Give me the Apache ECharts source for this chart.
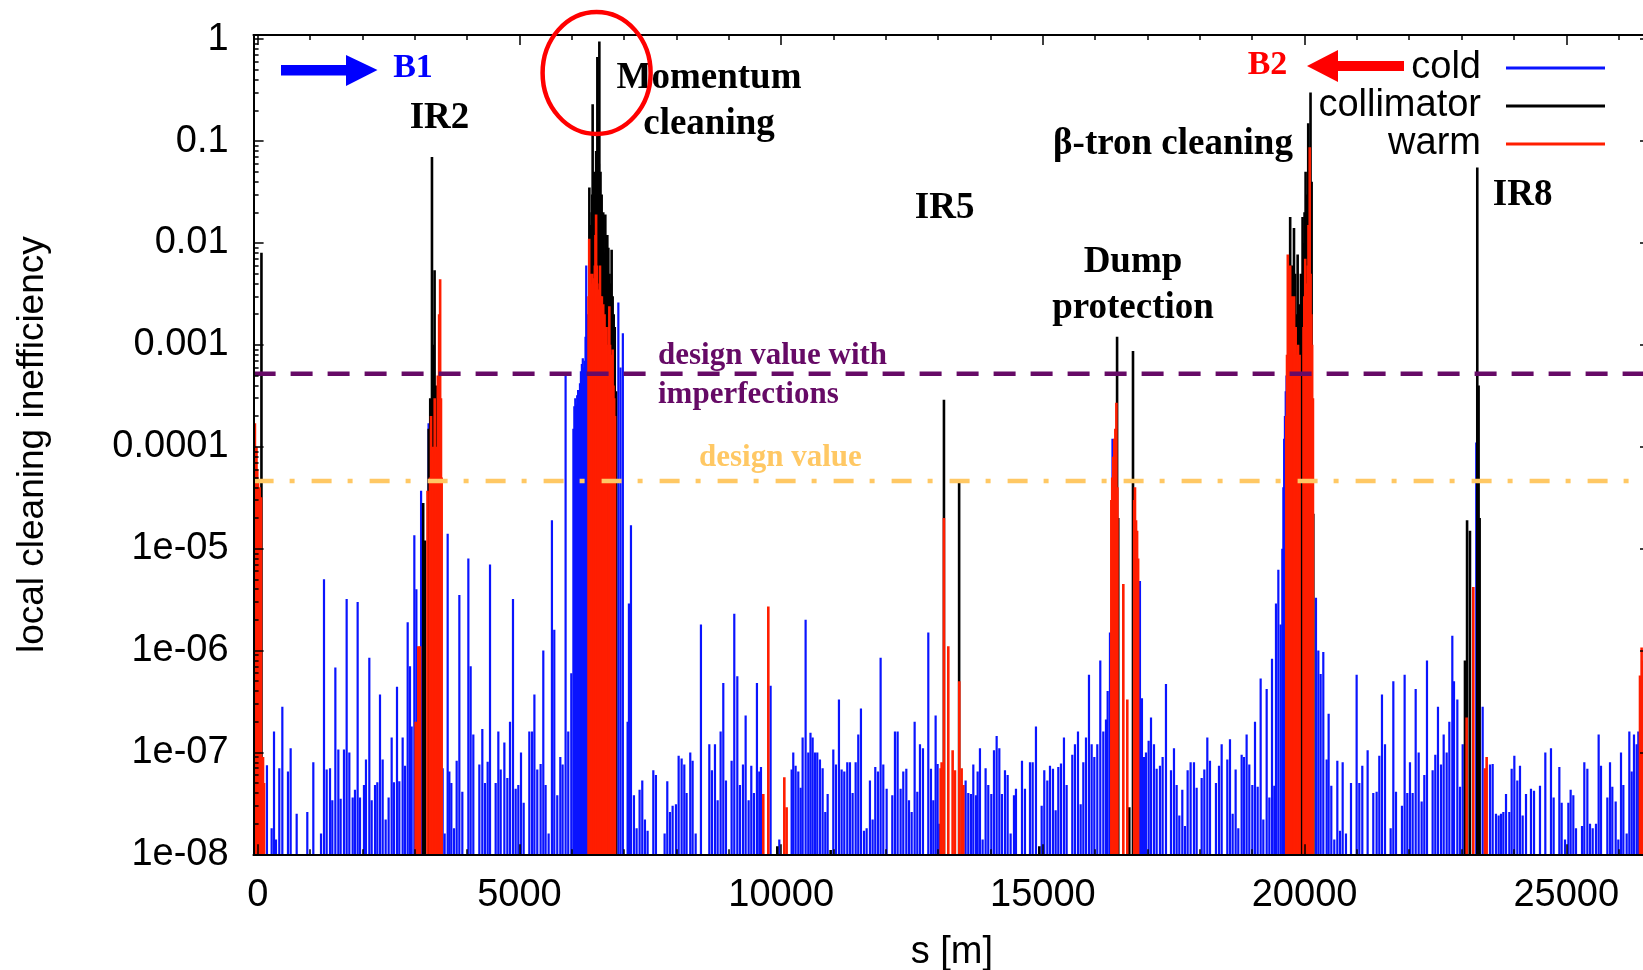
<!DOCTYPE html>
<html>
<head>
<meta charset="utf-8">
<script src="https://cdn.jsdelivr.net/npm/echarts@6.0.0/dist/echarts.min.js"></script>
<style>
  html, body { margin: 0; padding: 0; background: #ffffff; }
  #chart { width: 1643px; height: 970px; }
</style>
</head>
<body>
<div id="chart"></div>
<script>
// Local cleaning inefficiency around the ring, [s (m), inefficiency]
// Cold elements (superconducting magnets), grouped by ring section
const coldIR1toIR2 = [
  [175,7.5e-8],[265,1.8e-8],[310,1.6e-7],[348,1.4e-8],[411,7e-8],[469,2.8e-7],[577,6.5e-8],[628,1.1e-7],
  [743,2.5e-8],[946,2.6e-8],[1061,8e-8],[1208,1.6e-8],[1265,5e-6],[1316,6.8e-8],[1380,7e-8],[1424,3.4e-8],
  [1482,6.8e-7],[1539,1.07e-7],[1583,3.5e-8],[1647,1.07e-7],[1698,3.2e-6],[1749,1e-7],[1813,3.6e-8],[1857,4.3e-8],
  [1908,3e-6],[1953,3.6e-8],[2029,4.8e-8],[2067,8.5e-8],[2131,8.5e-7],[2176,3.4e-8],[2240,4.8e-8],[2284,5.1e-8],
  [2335,3.7e-7],[2386,8.5e-8],[2443,2.2e-8],[2500,3.6e-8],[2558,1.4e-7],[2602,5.1e-8],[2660,4.4e-7],[2704,5.2e-8],
  [2768,1.4e-7],[2813,7.4e-8],[2864,1.9e-6],[2908,7e-7],[2940,1.8e-7],[2991,1.35e-5],[3030,4e-6],[3120,3.7e-5],
  [3150,2e-5],[3263,1.7e-4],[3433,3e-4]
];
const coldIR2toIR3 = [
  [3532,7e-8],[3570,1.6e-8],[3628,1.4e-5],[3660,6.5e-8],[3698,5e-8],[3749,1.8e-8],[3800,8.3e-8],[3851,3.5e-6],
  [3908,4.1e-8],[4023,8e-6],[4067,7e-7],[4118,1.5e-7],[4233,7.6e-8],[4290,1.7e-7],[4341,5e-8],[4392,8.1e-8],
  [4437,7e-6],[4545,5e-8],[4596,1.6e-7],[4641,6.8e-8],[4711,1.25e-7],[4768,5.6e-8],[4819,2e-7],[4876,3.2e-6],
  [4927,4.4e-8],[4978,4.8e-8],[5029,1e-7],[5080,3.2e-8],[5188,1.6e-7],[5240,1.6e-7],[5285,3.7e-7],[5340,6.8e-8],
  [5404,7.7e-8],[5455,1e-6],[5499,4.8e-8],[5557,1.6e-8],[5620,1.9e-5],[5665,1.6e-6],[5722,3.8e-8],[5780,9e-8],
  [5824,7.6e-8],[5881,5e-4],[5932,1.6e-7],[5990,6e-7]
];
const coldIR3 = [
  [6030,1.5e-4],[6048,2.5e-4],[6066,3e-4],[6084,2.6e-4],[6102,3.2e-4],[6120,3.6e-4],[6138,3.4e-4],[6156,4.2e-4],
  [6174,5.5e-4],[6192,6.5e-4],[6210,7.4e-4],[6228,6e-4],[6246,7e-4],[6262,1.2e-3],[6275,6e-3],[6292,2e-3],
  [6310,1.5e-3],[6889,2.6e-3],[6930,6e-4],[6975,1.3e-3]
];
const coldIR3toIR5 = [
  [7066,2e-7],[7091,2.9e-6],[7130,1.7e-5],[7187,3.8e-8],[7238,1.8e-8],[7295,4.3e-8],[7346,5.3e-8],[7397,2.2e-8],
  [7448,1.7e-8],[7557,6.7e-8],[7607,6e-8],[7773,1.6e-8],[7824,5.2e-8],[7875,2.6e-8],[7926,3e-8],[7990,3.1e-8],
  [8041,9.3e-8],[8098,8.7e-8],[8149,7.6e-8],[8193,4e-8],[8263,1e-7],[8308,8.3e-8],[8366,1.6e-8],[8467,1.8e-6],
  [8627,1.2e-7],[8677,6.7e-8],[8735,1.2e-7],[8786,3.4e-8],[8843,1.6e-7],[8894,4.8e-7],[8945,5.3e-8],[9053,8.3e-8],
  [9104,2.3e-6],[9162,5.6e-7],[9212,4.8e-8],[9270,7.6e-8],[9321,2.3e-7],[9378,3.4e-8],[9429,7.4e-8],[9480,4e-8],
  [9537,4.8e-7],[9582,6.5e-8],[9614,7.2e-8],[9798,4.5e-7],[9964,1.4e-8],[10200,6.8e-8],[10231,1e-7],[10276,7.4e-8],
  [10327,6.5e-8],[10372,4.5e-8],[10410,1.4e-7],[10467,2e-6],[10518,1e-7],[10560,1.56e-7],[10601,1.4e-7],[10646,1e-7],
  [10690,1e-7],[10741,8.5e-8],[10792,7e-8],[10843,2.6e-8],[10888,3.9e-8],[10996,1.07e-7],[11047,7.6e-8],[11104,3.3e-7],
  [11155,6.8e-8],[11206,6.5e-8],[11263,8e-8],[11314,8e-8],[11365,4e-8],[11423,8e-8],[11473,1.5e-7],[11524,2.7e-7],
  [11582,1.7e-8],[11633,1.8e-8],[11696,5.3e-8],[11747,2.2e-8],[11798,7.2e-8],[11849,6.5e-8],[11900,8.5e-7],[11951,7.6e-8],
  [12015,4.4e-8],[12123,3.8e-8],[12174,1.6e-7],[12225,1.6e-7],[12282,4.4e-8],[12333,6.5e-8],[12391,6.9e-8],[12442,3.4e-8],
  [12493,2.6e-8],[12550,2e-7],[12601,4.1e-8],[12652,1.2e-7],[12709,1.1e-7],[12811,1.5e-6],[12862,6.9e-8],[12907,3.4e-8],
  [12951,2.3e-7],[12989,7.7e-8],[13021,2e-8]
];
const coldIR5toIR7 = [
  [13480,4.8e-8],[13524,5.3e-8],[13575,4e-8],[13626,3.9e-8],[13671,7.6e-8],[13722,3.8e-8],[13754,6.5e-8],[13798,1.1e-7],
  [13849,1.4e-8],[13906,7e-8],[13957,4.8e-8],[14015,3.9e-8],[14066,1.05e-7],[14117,1.45e-7],[14168,1.1e-7],[14218,3.9e-8],
  [14276,6.7e-8],[14327,6e-8],[14384,1.6e-8],[14448,3.8e-8],[14486,4.4e-8],[14601,8.3e-8],[14658,4.4e-8],[14754,8e-8],
  [14805,8e-8],[14868,1.8e-7],[14977,3e-8],[15027,6.7e-8],[15085,5.3e-8],[15136,7.4e-8],[15193,6.9e-8],[15244,2.7e-8],
  [15295,7.2e-8],[15346,7.8e-8],[15403,1.4e-7],[15454,4.8e-8],[15562,9.5e-8],[15613,1.2e-7],[15671,1.6e-7],[15722,3.1e-8],
  [15773,8e-8],[15824,1.4e-7],[15881,5.8e-7],[15932,1.2e-7],[15983,9e-8],[16040,1.2e-7],[16097,8e-7],[16155,1.6e-7],
  [16206,2.1e-7],[16238,4e-7],[16282,1.5e-6],[16330,1.2e-4],[16855,4.8e-6],[16893,3.4e-7],[16932,9e-8],[16970,1e-7],
  [17021,1.3e-7],[17066,2.2e-7],[17123,1.2e-7],[17174,6.9e-8],[17237,7.4e-8],[17288,9e-8],[17352,4.7e-7],[17448,6.7e-8],
  [17505,1.1e-7],[17556,4.8e-8],[17607,2.4e-8],[17664,4.3e-8],[17715,1.9e-8],[17766,6.7e-8],[17823,8e-8],[17887,8e-8],
  [17938,4.5e-8],[18034,5.6e-8],[18085,6.8e-8],[18142,1.4e-7],[18193,8.3e-8],[18307,5e-8],[18365,7.4e-8],[18416,1.2e-7],
  [18524,8.5e-8],[18575,1.35e-7],[18626,2.5e-8],[18683,6.8e-8],[18734,1.8e-8],[18798,9.5e-8],[18843,9e-8],[18893,1.5e-7],
  [18944,7.6e-8],[19002,4.8e-8],[19053,2e-7],[19104,4.6e-8],[19161,5.3e-7],[19212,2.2e-8],[19276,4.2e-7],[19327,3.6e-8],
  [19378,8.3e-7],[19422,4.7e-8],[19454,2.9e-6],[19499,6.2e-6],[19543,1.8e-6],[19575,1e-5],[19595,4e-5],[19610,1.2e-4],
  [19625,2e-4],[19640,3.5e-4],[19655,5e-4]
];
const coldIR7toIR1 = [
  [20218,3.3e-6],[20263,1e-6],[20307,5.9e-7],[20358,9.7e-7],[20422,8.5e-8],[20460,2.4e-7],[20511,4.7e-8],[20568,1.4e-8],
  [20626,8.3e-8],[20677,1.7e-8],[20728,8e-8],[20791,1.6e-8],[20887,5e-8],[20995,5.8e-7],[21046,5e-8],[21103,7.4e-8],
  [21205,1.05e-7],[21313,4e-8],[21377,4.1e-8],[21428,9.3e-8],[21479,3.7e-7],[21537,1.2e-7],[21645,1.8e-8],[21696,5e-7],
  [21747,4.1e-8],[21861,3e-8],[21912,5.8e-7],[21963,4e-8],[22014,8e-8],[22065,4e-8],[22123,4.2e-7],[22180,1e-7],
  [22237,3.3e-8],[22288,6e-8],[22339,8e-7],[22447,6.7e-8],[22498,9.5e-8],[22549,2.8e-7],[22607,7.6e-8],[22658,1.5e-7],
  [22715,1e-7],[22766,2e-7],[22823,1.4e-6],[22855,5e-7],[22919,3.3e-7],[22970,4.6e-8],[23021,1.2e-7],[23280,1.1e-4],
  [23403,2.8e-7],[23543,7.6e-8],[23594,7.7e-8],[23657,2.5e-8],[23708,2.4e-8],[23753,2.5e-8],[23798,2.6e-8],[23849,3.9e-8],
  [23912,2.6e-8],[23957,6.9e-8],[24008,9.3e-8],[24065,5.3e-8],[24116,7.4e-8],[24167,2.4e-8],[24231,3.9e-8],[24326,4.4e-8],
  [24384,4.2e-8],[24498,4.7e-8],[24600,1e-7],[24708,1.1e-7],[24759,3.6e-8],[24868,7.2e-8],[24912,3.2e-8],[24976,1.4e-8],
  [25040,3.2e-8],[25084,4.3e-8],[25135,3.8e-8],[25186,1.8e-8],[25301,1.9e-8],[25345,8e-8],[25403,6.9e-8],[25454,2e-8],
  [25505,1.8e-8],[25568,2e-8],[25619,1.5e-7],[25664,7.4e-8],[25785,3.6e-8],[25836,8e-8],[25880,4.6e-8],[25944,3.3e-8],
  [25995,1.4e-8],[26046,1e-7],[26091,4.8e-8],[26154,1.6e-8],[26205,1.6e-7],[26250,6.5e-8],[26294,1.5e-7],[26345,1.2e-7],
  [26377,1.6e-7]
];

// Collimators
const collimatorIR1 = [[70,8e-3]];
const collimatorIR2 = [[3160,2.8e-5],[3195,1.2e-5],[3265,1.5e-4],[3295,3e-4],[3328,0.07],[3350,1e-3],[3378,5.4e-3],[3400,4e-4]];
const collimatorIR3 = [
  [6335,0.035],[6350,8e-3],[6360,0.012],[6372,0.015],[6380,0.02],[6390,0.03],[6398,0.23],[6410,0.012],[6420,0.05],
  [6432,0.025],[6443,0.018],[6455,0.01],[6465,0.08],[6478,0.04],[6488,0.67],[6498,0.02],[6507,0.15],[6516,0.06],
  [6526,0.95],[6536,0.02],[6548,0.05],[6558,0.015],[6570,0.03],[6585,0.012],[6600,0.02],[6620,8e-3],[6640,0.019],
  [6660,6e-3],[6678,0.012],[6698,9e-3],[6720,5e-3],[6740,4e-3],[6761,8.6e-3],[6780,3e-3],[6800,2e-3],[6820,1.5e-3],
  [6844,3.5e-4]
];
const collimatorArcs = [[9926,1.2e-8],[10945,1.1e-8],[14932,1.2e-8]];
const collimatorIR5 = [[13110,2.9e-4],[13400,4.8e-5]];
const collimatorIR6 = [[16418,1.2e-3],[16440,2e-5],[16651,2.9e-8],[16722,8.7e-4]];
const collimatorIR7 = [
  [19672,2e-4],[19690,4e-3],[19725,0.018],[19745,2e-3],[19765,6e-3],[19780,3e-3],[19798,0.014],[19820,5e-3],
  [19845,2e-3],[19868,7.7e-3],[19890,2.5e-3],[19912,1.5e-3],[19930,5e-3],[19945,3e-3],[19962,0.018],[19985,0.01],
  [20000,0.02],[20020,0.05],[20045,0.03],[20070,0.15],[20090,0.07],[20114,0.3],[20135,0.04],[20167,2.2e-5]
];
const collimatorIR8 = [[23065,8e-7],[23105,1.9e-5],[23160,1.5e-5],[23300,0.055],[23325,4e-4],[23345,2e-5]];

// Warm elements
const warmIR1 = [
  [-70,5e-5],[-55,1.7e-4],[-40,8e-5],[-25,1e-4],[-10,6e-5],[5,4.5e-5],[20,3.5e-5],[35,4e-5],[50,3e-5],[62,3.2e-5],
  [80,9e-8],[100,9e-8],[120,5e-8]
];
const warmIR2 = [
  [3017,2e-7],[3067,1.1e-6],[3100,1.1e-6],[3243,3.7e-5],[3290,5e-5],[3310,2e-4],[3350,1e-4],[3380,3e-4],[3410,1e-4],
  [3440,5e-4],[3465,2e-3],[3484,4.4e-3],[3500,3e-4],[3513,5e-5]
];
const warmIR3 = [
  [6320,3e-3],[6332,1.1e-2],[6344,5e-3],[6356,3e-3],[6368,4e-3],[6380,3.5e-3],[6392,5e-3],[6404,4e-3],[6416,3e-3],
  [6428,4.5e-3],[6440,6e-3],[6452,1.2e-2],[6464,1.9e-2],[6476,6e-3],[6488,4e-3],[6500,3e-3],[6515,3.5e-3],[6538,6e-3],
  [6550,3e-3],[6562,2.5e-3],[6574,3e-3],[6586,2e-3],[6600,2.5e-3],[6612,1.5e-3],[6625,2e-3],[6638,1.2e-3],[6650,1.5e-3],
  [6665,1e-3],[6700,1.5e-3],[6717,2.4e-3],[6730,1e-3],[6745,8e-4],[6760,6e-4],[6780,9e-4],[6795,4e-4],[6810,3e-4],
  [6825,2e-4]
];
const warmArcs = [[9658,3.9e-8],[9754,2.7e-6],[10060,5.7e-8],[10104,2.9e-8]];
const warmIR5 = [
  [13047,7e-8],[13066,8e-8],[13110,2e-5],[13193,1.1e-6],[13276,1.05e-7],[13320,6.7e-8],[13403,5e-7],[13448,7e-8],[13480,4.8e-8]
];
const warmIR6 = [
  [16308,3e-5],[16325,5e-5],[16345,8e-5],[16365,1.2e-4],[16385,1.5e-4],[16405,2.7e-4],[16425,4e-5],[16537,4.5e-6],
  [16613,3.3e-7],[16745,3e-5],[16760,4e-5],[16780,1.9e-5],[16800,1.5e-5],[16820,8e-6]
];
const warmIR7 = [
  [19650,2e-4],[19665,8e-4],[19680,7.7e-3],[19695,3e-3],[19710,4e-3],[19725,6e-3],[19740,1.5e-3],[19755,3e-3],
  [19770,1.5e-3],[19785,2e-3],[19800,3e-3],[19815,8e-4],[19830,1.5e-3],[19845,8e-4],[19860,6e-4],[19875,1e-3],
  [19890,5e-4],[19905,8e-4],[19980,1.5e-3],[19995,3e-3],[20013,7e-3],[20030,2.5e-3],[20045,4e-3],[20060,6e-3],
  [20075,1.5e-2],[20099,0.087],[20115,5e-3],[20130,2e-3],[20145,1e-3],[20160,3e-4]
];
const warmIR8 = [[23097,2.2e-7],[23224,4.2e-6],[23447,7e-8],[23479,9e-8]];
const warmIR1Left = [[26409,5.7e-7],[26440,1.07e-6],[26470,8e-7]];

// Reference levels
const designWithImperfections = 5.2e-4;
const designValue = 4.6e-5;

// Axis ticks and labels
const xTickValues = [0, 5000, 10000, 15000, 20000, 25000];
const xTickLabels = ['0', '5000', '10000', '15000', '20000', '25000'];
const yTickValues = [1e-8, 1e-7, 1e-6, 1e-5, 1e-4, 1e-3, 1e-2, 1e-1, 1];
const yTickLabels = ['1e-08', '1e-07', '1e-06', '1e-05', '0.0001', '0.001', '0.01', '0.1', '1'];

const S_MIN = -80, S_MAX = 26600, Y_MIN = 1e-8, Y_MAX = 1.1;

const cold = [].concat(coldIR1toIR2, coldIR2toIR3, coldIR3, coldIR3toIR5, coldIR5toIR7, coldIR7toIR1);
const collimator = [].concat(collimatorIR1, collimatorIR2, collimatorIR3, collimatorArcs, collimatorIR5,
                             collimatorIR6, collimatorIR7, collimatorIR8);
const warm = [].concat(warmIR1, warmIR2, warmIR3, warmArcs, warmIR5, warmIR6, warmIR7, warmIR8, warmIR1Left);

const xMinorTicks = [];
for (let s = 1000; s < S_MAX; s += 1000) if (s % 5000 !== 0) xMinorTicks.push(s);
const yMinorTicks = [];
for (let e = -8; e < 0; e++) for (let k = 2; k <= 9; k++) yMinorTicks.push(k * Math.pow(10, e));

const BLUE = '#0a14ff', BLACK = '#000000', RED = '#ff1e00';
const PURPLE = '#660a66', ORANGE = '#ffc864';
const SANS = 'Liberation Sans';
const SERIF_BOLD = 'bold 37px "Liberation Serif"';

// impulses: vertical line from the axis floor up to each value
function impulses(name, data, color, width, z) {
  return {
    name, type: 'custom', data, z, clip: true, silent: true,
    itemStyle: { color },
    encode: { x: 0, y: 1 },
    renderItem: (params, api) => {
      const top = api.coord([api.value(0), api.value(1)]);
      const base = api.coord([api.value(0), Y_MIN]);
      return {
        type: 'line',
        shape: { x1: top[0], y1: base[1], x2: top[0], y2: top[1] },
        style: { stroke: color, lineWidth: width }
      };
    }
  };
}

// horizontal reference level across the whole ring
function level(name, value, color, dash) {
  return {
    name, type: 'custom', data: [[S_MIN, value]], z: 6, clip: true, silent: true,
    encode: { x: 0, y: 1 },
    renderItem: (params, api) => {
      const a = api.coord([S_MIN, api.value(1)]);
      const b = api.coord([S_MAX, api.value(1)]);
      return {
        type: 'line',
        shape: { x1: a[0], y1: a[1], x2: b[0], y2: b[1] },
        style: { stroke: color, lineWidth: 4.5, lineDash: dash }
      };
    }
  };
}

const tickLine = { color: '#000', width: 1.5 };
function xAxisDef(position, ticks, len, labels) {
  return {
    type: 'value', min: S_MIN, max: S_MAX, position, z: 10,
    axisLine: { show: true, onZero: false, lineStyle: { color: '#000', width: 2 } },
    splitLine: { show: false },
    axisTick: { show: true, inside: true, length: len, lineStyle: tickLine, customValues: ticks },
    axisLabel: labels ? {
      customValues: xTickValues, margin: 22, fontSize: 38, fontFamily: SANS, color: '#000',
      formatter: v => { const i = xTickValues.indexOf(Math.round(v)); return i >= 0 ? xTickLabels[i] : ''; }
    } : { show: false }
  };
}
function yAxisDef(position, ticks, len, labels) {
  return {
    type: 'log', logBase: 10, min: Y_MIN, max: Y_MAX, position, z: 10,
    axisLine: { show: true, onZero: false, lineStyle: { color: '#000', width: 2 } },
    splitLine: { show: false },
    axisTick: { show: true, inside: true, length: len, lineStyle: tickLine, customValues: ticks },
    axisLabel: labels ? {
      customValues: yTickValues, margin: 25, fontSize: 38, fontFamily: SANS, color: '#000',
      formatter: v => {
        const i = yTickValues.findIndex(t => Math.abs(Math.log10(t) - Math.log10(v)) < 1e-6);
        return i >= 0 ? yTickLabels[i] : '';
      }
    } : { show: false }
  };
}

const xBottom = xAxisDef('bottom', xTickValues, 10, true);
Object.assign(xBottom, {
  name: 's [m]', nameLocation: 'middle', nameGap: 79,
  nameTextStyle: { fontSize: 38, fontFamily: SANS, color: '#000' }
});
const yLeft = yAxisDef('left', yTickValues, 10, true);
Object.assign(yLeft, {
  name: 'local cleaning inefficiency', nameLocation: 'middle', nameGap: 202, nameRotate: 90,
  nameTextStyle: { fontSize: 37, fontFamily: SANS, color: '#000' }
});

const chart = echarts.init(document.getElementById('chart'), null, { renderer: 'canvas' });
chart.setOption({
  animation: false,
  backgroundColor: '#ffffff',
  grid: {
    left: 253.6, width: 1396.4, top: 35, height: 819.3, show: false,
    containLabel: false, outerBoundsMode: 'none'
  },
  xAxis: [
    xBottom,
    xAxisDef('bottom', xMinorTicks, 5, false),
    xAxisDef('top', xTickValues, 10, false),
    xAxisDef('top', xMinorTicks, 5, false)
  ],
  yAxis: [
    yLeft,
    yAxisDef('left', yMinorTicks, 5, false),
    yAxisDef('right', yTickValues, 10, false),
    yAxisDef('right', yMinorTicks, 5, false)
  ],
  legend: {
    data: ['cold', 'collimator', 'warm'],
    orient: 'vertical', right: 33, top: 44, align: 'right',
    icon: 'rect', itemWidth: 99, itemHeight: 3, itemGap: 0, selectedMode: false,
    textStyle: { fontSize: 38, fontFamily: SANS, color: '#000', lineHeight: 38, padding: [0, 20, 0, 0] }
  },
  series: [
    impulses('cold', cold, BLUE, 2.2, 2),
    impulses('collimator', collimator, BLACK, 2.6, 3),
    impulses('warm', warm, RED, 2.6, 4),
    level('design value with imperfections', designWithImperfections, PURPLE, [22, 15]),
    level('design value', designValue, ORANGE, [20, 16, 5, 17])
  ],
  graphic: {
    elements: [
      { type: 'text', z: 100, style: { text: 'IR2', x: 439.5, y: 118, font: SERIF_BOLD, fill: '#000', align: 'center', verticalAlign: 'middle' } },
      { type: 'text', z: 100, style: { text: 'Momentum\ncleaning', x: 709, y: 101, font: SERIF_BOLD, lineHeight: 46, fill: '#000', align: 'center', verticalAlign: 'middle' } },
      { type: 'text', z: 100, style: { text: 'IR5', x: 944.6, y: 208.5, font: SERIF_BOLD, fill: '#000', align: 'center', verticalAlign: 'middle' } },
      { type: 'text', z: 100, style: { text: 'β-tron cleaning', x: 1173, y: 144.5, font: SERIF_BOLD, fill: '#000', align: 'center', verticalAlign: 'middle' } },
      { type: 'text', z: 100, style: { text: 'Dump\nprotection', x: 1133, y: 285, font: SERIF_BOLD, lineHeight: 46, fill: '#000', align: 'center', verticalAlign: 'middle' } },
      { type: 'text', z: 100, style: { text: 'IR8', x: 1522.6, y: 195, font: SERIF_BOLD, fill: '#000', align: 'center', verticalAlign: 'middle' } },
      { type: 'text', z: 100, style: { text: 'B1', x: 413, y: 68, font: 'bold 34px "Liberation Serif"', fill: '#0000ff', align: 'center', verticalAlign: 'middle' } },
      { type: 'text', z: 100, style: { text: 'B2', x: 1267.5, y: 65, font: 'bold 34px "Liberation Serif"', fill: '#ff0000', align: 'center', verticalAlign: 'middle' } },
      { type: 'text', z: 100, style: { text: 'design value with\nimperfections', x: 658, y: 375.5, font: 'bold 31px "Liberation Serif"', lineHeight: 39, fill: PURPLE, align: 'left', verticalAlign: 'middle' } },
      { type: 'text', z: 100, style: { text: 'design value', x: 699, y: 458, font: 'bold 31px "Liberation Serif"', fill: ORANGE, align: 'left', verticalAlign: 'middle' } },
      { type: 'polygon', z: 100, shape: { points: [[281, 65], [346, 65], [346, 55], [377.5, 70], [346, 86], [346, 75.5], [281, 75.5]] }, style: { fill: '#0000ff' } },
      { type: 'polygon', z: 100, shape: { points: [[1404, 61], [1338, 61], [1338, 50], [1307, 66], [1338, 82], [1338, 71], [1404, 71]] }, style: { fill: '#ff0000' } },
      { type: 'ellipse', z: 100, shape: { cx: 596.6, cy: 73, rx: 54, ry: 61 }, style: { fill: null, stroke: '#ff0000', lineWidth: 4.5 } }
    ]
  }
});
</script>
</body>
</html>
